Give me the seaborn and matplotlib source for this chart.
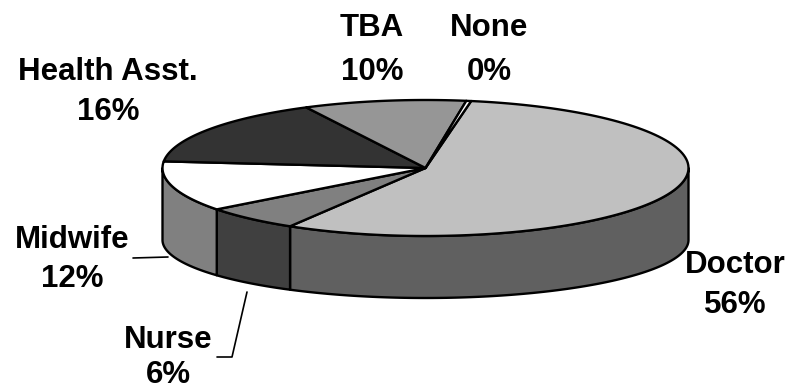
import numpy as np
import matplotlib
matplotlib.use("Agg")
import matplotlib.pyplot as plt
from matplotlib.patches import Polygon
import seaborn as sns

# Who attended the delivery (share of births, %)
categories = ["Doctor", "Nurse", "Midwife", "Health Asst.", "TBA", "None"]
shares = [56, 6, 12, 16, 10, 0.3]
top_greys = ["#c0c0c0", "#808080", "#ffffff", "#333333", "#969696", "#ffffff"]

sns.set_theme(style="white")
plt.rcParams["font.family"] = ["Liberation Sans", "DejaVu Sans"]

fig = plt.figure(figsize=(7.87, 3.89), dpi=100)
ax = fig.add_axes([0, 0, 1, 1])
ax.set_xlim(0, 787)
ax.set_ylim(389, 0)
ax.axis("off")

# geometry of the tilted disc (pixel units)
cx, cy, rx, ry = 425.5, 168.0, 263.0, 68.0
drop, ry_base = 72.0, 58.0
first_angle = 10.0
lw = 1.7


def top_pt(t):
    t = np.radians(t)
    return cx + rx * np.sin(t), cy - ry * np.cos(t)


def base_pt(t):
    t = np.radians(t)
    return cx + rx * np.sin(t), cy + drop - ry_base * np.cos(t)


def arc(fn, a, b, n=120):
    ts = np.linspace(a, b, n)
    xs, ys = fn(ts)
    return np.column_stack([xs, ys])


def shade(hex_col, k=0.5):
    r, g, b = matplotlib.colors.to_rgb(hex_col)
    return (r * k, g * k, b * k)


total = sum(shares)
edges = first_angle + np.concatenate([[0], np.cumsum(shares)]) * 360.0 / total

# front walls (only the half facing the viewer)
for i, col in enumerate(top_greys):
    a, b = max(edges[i], 90.0), min(edges[i + 1], 270.0)
    if a >= b:
        continue
    pts = np.vstack([arc(top_pt, a, b), arc(base_pt, b, a)])
    ax.add_patch(Polygon(pts, closed=True, facecolor=shade(col), edgecolor="black",
                         linewidth=lw, joinstyle="round", zorder=2))

# top faces
for i, col in enumerate(top_greys):
    pts = np.vstack([[cx, cy], arc(top_pt, edges[i], edges[i + 1])])
    ax.add_patch(Polygon(pts, closed=True, facecolor=col, edgecolor="black",
                         linewidth=lw, joinstyle="round", zorder=3))

# data labels
label_pos = {
    "Doctor": (735, 265, 305),
    "Nurse": (168, 340, 375),
    "Midwife": (72, 240, 279),
    "Health Asst.": (108, 72, 112),
    "TBA": (372, 28, 72),
    "None": (489, 28, 72),
}
for name, val in zip(categories, shares):
    x, y1, y2 = label_pos[name]
    kw = dict(ha="center", va="center", fontsize=22.5, fontweight="bold", color="black", zorder=5)
    ax.text(x, y1, name, **kw)
    ax.text(x, y2, f"{round(val)}%", **kw)

# leader lines
ax.plot([133, 168], [258, 257], color="black", lw=1.2, zorder=4)
ax.plot([217, 232, 247], [357, 357, 292], color="black", lw=1.2, zorder=4)

fig.savefig("out.png", dpi=100, facecolor="white")
